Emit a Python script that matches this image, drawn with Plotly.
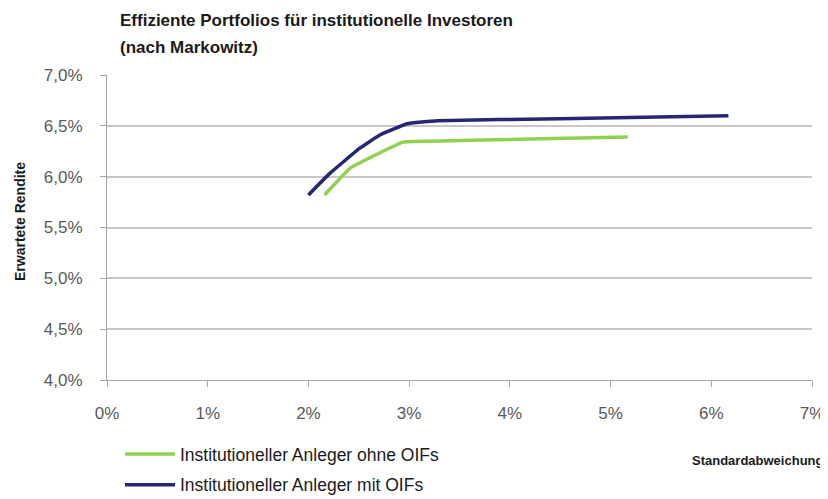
import plotly.graph_objects as go

# Standardabweichung (%) und erwartete Rendite (%)
sd_ohne = [2.16, 2.41, 2.68, 2.94, 3.5, 4.2, 5.17]
ret_ohne = [5.82, 6.08, 6.22, 6.34, 6.355, 6.37, 6.39]

sd_mit = [2.0, 2.21, 2.51, 2.71, 2.98, 3.28, 4.5, 6.17]
ret_mit = [5.82, 6.03, 6.28, 6.41, 6.52, 6.55, 6.57, 6.60]

x_ticks = [0, 1, 2, 3, 4, 5, 6, 7]
x_labels = ["0%", "1%", "2%", "3%", "4%", "5%", "6%", "7%"]
y_ticks = [4.0, 4.5, 5.0, 5.5, 6.0, 6.5, 7.0]
y_labels = ["4,0%", "4,5%", "5,0%", "5,5%", "6,0%", "6,5%", "7,0%"]

font = "Liberation Sans, Arial, sans-serif"

# the page body has an 8px margin, so the figure is shrunk by that amount
W, H = 820, 491
PW, PH = 705, 305  # plot area size


def px_x(x):
    """page x pixel -> paper coord"""
    return (x - 107) / PW


def px_y(y):
    """page y pixel -> paper coord"""
    return (380 - y) / PH


fig = go.Figure()
fig.add_trace(go.Scatter(
    x=sd_ohne, y=ret_ohne, mode="lines",
    name="Institutioneller Anleger ohne OIFs", legendgroup="a",
    line=dict(color="#92D050", width=3.5, shape="spline", smoothing=0.3),
))
fig.add_trace(go.Scatter(
    x=sd_mit, y=ret_mit, mode="lines",
    name="Institutioneller Anleger mit OIFs", legendgroup="b",
    line=dict(color="#262673", width=3.5, shape="spline", smoothing=0.3),
))

fig.update_layout(
    width=W, height=H,
    margin=dict(l=99, r=16, t=67, b=119),
    paper_bgcolor="white", plot_bgcolor="white",
    font=dict(family=font, color="#595959"),
    xaxis=dict(
        range=[0, 7], tickvals=x_ticks, ticktext=x_labels,
        showgrid=False, zeroline=False, automargin=False,
        showline=True, linecolor="#a6a6a6", linewidth=1,
        ticks="outside", ticklen=6, tickcolor="#a6a6a6",
        ticklabelstandoff=12,
        tickfont=dict(size=17, color="#595959"),
    ),
    yaxis=dict(
        range=[4.0, 7.0], tickvals=y_ticks, ticktext=y_labels,
        showgrid=True, gridcolor="#c8c8c8", gridwidth=1.5, zeroline=False,
        automargin=False,
        showline=True, linecolor="#a6a6a6", linewidth=1,
        ticks="outside", ticklen=6, tickcolor="#a6a6a6",
        ticklabelposition="outside", ticklabelstandoff=14,
        tickfont=dict(size=17, color="#595959"),
    ),
    showlegend=True,
    legend=dict(
        x=px_x(120), xref="paper",
        y=1 - (436 - 8) / H, yref="container",
        xanchor="left", yanchor="top",
        orientation="v", tracegroupgap=5, itemwidth=50,
        font=dict(size=17.5, color="#1a1a1a"),
        bgcolor="rgba(0,0,0,0)",
    ),
    annotations=[
        dict(
            text="<b>Effiziente Portfolios für institutionelle Investoren</b>",
            xref="paper", yref="paper", x=px_x(118), y=px_y(20),
            xanchor="left", yanchor="middle", showarrow=False,
            font=dict(size=17, color="#1a1a1a"),
        ),
        dict(
            text="<b>(nach Markowitz)</b>",
            xref="paper", yref="paper", x=px_x(118), y=px_y(47),
            xanchor="left", yanchor="middle", showarrow=False,
            font=dict(size=17, color="#1a1a1a"),
        ),
        dict(
            text="<b>Erwartete Rendite</b>", xref="paper", yref="paper",
            x=px_x(20), y=px_y(222), xanchor="center", yanchor="middle",
            textangle=-90, showarrow=False,
            font=dict(size=14, color="#1a1a1a"),
        ),
        dict(
            text="<b>Standardabweichung</b>", xref="paper", yref="paper",
            x=px_x(826), y=px_y(460), xanchor="right", yanchor="middle",
            showarrow=False, font=dict(size=13, color="#1a1a1a"),
        ),
    ],
)

fig.write_html("out.html")
